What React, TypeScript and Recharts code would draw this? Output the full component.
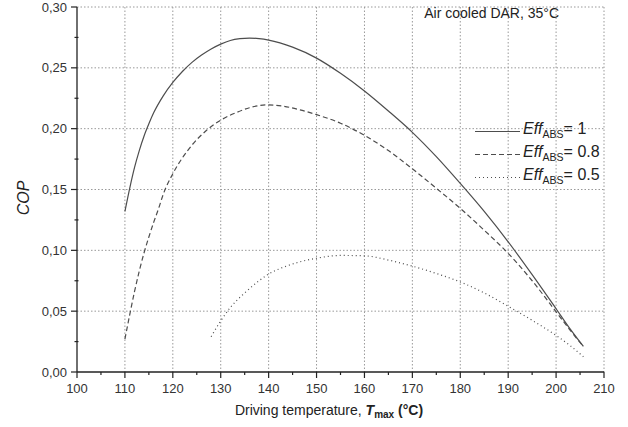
import { LineChart, Line, XAxis, YAxis, CartesianGrid, Legend, Label } from 'recharts';

// Driving temperature (°C) and COP for each absorber efficiency
const tempEff1 = [110, 111, 112, 113, 114, 115, 116, 118, 120, 122, 124, 126, 128, 130, 132, 134, 136, 138, 140, 145, 150, 155, 160, 165, 170, 175, 180, 185, 190, 195, 200, 203, 205.7];
const copEff1 = [0.132, 0.151, 0.168, 0.182, 0.194, 0.204, 0.213, 0.227, 0.238, 0.247, 0.2545, 0.2605, 0.2655, 0.2695, 0.2725, 0.274, 0.2745, 0.274, 0.2728, 0.267, 0.258, 0.2455, 0.231, 0.2145, 0.197, 0.177, 0.155, 0.132, 0.107, 0.08, 0.052, 0.035, 0.021];

const tempEff08 = [110, 111, 112, 113, 114, 115, 116, 117, 118, 120, 122, 124, 127, 130, 133, 136, 139.5, 143, 146.5, 150, 155, 160, 165, 170, 175, 180, 185, 190, 195, 200, 203, 205.7];
const copEff08 = [0.027, 0.047, 0.066, 0.083, 0.098, 0.111, 0.123, 0.134, 0.146, 0.163, 0.176, 0.1865, 0.1985, 0.207, 0.2128, 0.2172, 0.2195, 0.2185, 0.2155, 0.2115, 0.2045, 0.1945, 0.182, 0.167, 0.151, 0.1345, 0.1165, 0.0975, 0.075, 0.0495, 0.034, 0.021];

const tempEff05 = [128, 130, 132, 135, 138, 140, 143, 146.5, 150, 155, 160, 165, 170, 175, 180, 185, 190, 195, 200, 203, 205.7];
const copEff05 = [0.029, 0.042, 0.053, 0.065, 0.075, 0.0805, 0.086, 0.0905, 0.0935, 0.0958, 0.0955, 0.092, 0.087, 0.081, 0.074, 0.065, 0.054, 0.0425, 0.03, 0.0215, 0.0125];

const seriesNames = ['1', '0.8', '0.5'];

const xMajorTicks = [100, 110, 120, 130, 140, 150, 160, 170, 180, 190, 200, 210];
const xMinorTicks = [105, 115, 125, 135, 145, 155, 165, 175, 185, 195, 205];
const yMajorTicks = [0, 0.05, 0.1, 0.15, 0.2, 0.25, 0.3];
const yMinorTicks = [0.025, 0.075, 0.125, 0.175, 0.225, 0.275];

const FONT = '"Liberation Sans", Arial, sans-serif';
const LINE = '#4d4d4d';
const AXIS = '#222';
const GRID = '#999';

const zip = (ts: number[], cs: number[]) => ts.map((t, i) => ({ t, cop: cs[i] }));

const series = [
  { name: seriesNames[0], data: zip(tempEff1, copEff1), dash: undefined as string | undefined },
  { name: seriesNames[1], data: zip(tempEff08, copEff08), dash: '5 3' },
  { name: seriesNames[2], data: zip(tempEff05, copEff05), dash: '1 3' },
];

const isMajor = (list: number[], v: number) => list.some((m) => Math.abs(m - v) < 1e-9);

function XTick({ x, y, payload }: any) {
  const major = isMajor(xMajorTicks, payload.value);
  return (
    <g>
      <line x1={x} x2={x} y1={y} y2={y + (major ? 6 : 3)} stroke={AXIS} strokeWidth={1.2} />
      {major && (
        <text x={x} y={y + 21} textAnchor="middle" fontSize={13} fill="#333" fontFamily={FONT}>
          {payload.value}
        </text>
      )}
    </g>
  );
}

function YTick({ x, y, payload }: any) {
  const major = isMajor(yMajorTicks, payload.value);
  return (
    <g>
      <line x1={major ? x - 6 : x - 2.5} x2={major ? x : x + 1.5} y1={y} y2={y} stroke={AXIS} strokeWidth={1.2} />
      {major && (
        <text x={x - 10} y={y + 4.5} textAnchor="end" fontSize={13} fill="#333" fontFamily={FONT}>
          {payload.value.toFixed(2).replace('.', ',')}
        </text>
      )}
    </g>
  );
}

function LegendBox() {
  return (
    <div style={{ fontFamily: FONT, color: '#222' }}>
      {series.map((s) => (
        <div key={s.name} style={{ display: 'flex', alignItems: 'center', height: 23 }}>
          <svg width={48} height={23}>
            <line x1={0} x2={45} y1={11.5} y2={11.5} stroke={LINE} strokeWidth={1.2} strokeDasharray={s.dash} />
          </svg>
          <span style={{ fontSize: 16, whiteSpace: 'nowrap', lineHeight: '23px' }}>
            <i>Eff</i>
            <sub style={{ fontSize: 10.5, verticalAlign: '-4px' }}>ABS</sub>= {s.name}
          </span>
        </div>
      ))}
    </div>
  );
}

export default function App() {
  return (
    <div style={{ position: 'absolute', left: 0, top: 0, width: 628, height: 427, background: '#fff' }}>
      <LineChart width={628} height={427} data={series[0].data} margin={{ top: 7, right: 24, bottom: 0, left: 0 }}>
        <CartesianGrid
          stroke={GRID}
          strokeWidth={1}
          strokeDasharray="1.5 2"
          verticalValues={xMajorTicks.slice(1)}
          horizontalValues={yMajorTicks.slice(1)}
        />
        <XAxis
          type="number"
          dataKey="t"
          domain={[100, 210]}
          ticks={[...xMajorTicks, ...xMinorTicks].sort((a, b) => a - b)}
          interval={0}
          height={55}
          tickSize={0}
          tickMargin={0}
          tickLine={false}
          tick={<XTick />}
          axisLine={{ stroke: AXIS, strokeWidth: 1.3 }}
          allowDataOverflow
        >
          <Label
            content={({ viewBox }: any) => (
              <text x={viewBox.x + 252} y={viewBox.y + 43} textAnchor="middle" fontSize={14} fill="#222" fontFamily={FONT}>
                Driving temperature,{' '}
                <tspan fontWeight="bold" fontStyle="italic">T</tspan>
                <tspan fontWeight="bold" fontSize={10} dy={3}>max</tspan>
                <tspan fontWeight="bold" dy={-3}> (°C)</tspan>
              </text>
            )}
          />
        </XAxis>
        <YAxis
          type="number"
          domain={[0, 0.3]}
          ticks={[...yMajorTicks, ...yMinorTicks].sort((a, b) => a - b)}
          interval={0}
          width={77}
          tickSize={0}
          tickMargin={0}
          tickLine={false}
          tick={<YTick />}
          axisLine={{ stroke: AXIS, strokeWidth: 1.3 }}
          allowDataOverflow
        >
          <Label
            content={() => (
              <text
                x={23}
                y={198}
                transform="rotate(-90 23 198)"
                textAnchor="middle"
                dominantBaseline="central"
                fontSize={16}
                fontStyle="italic"
                fill="#222"
                fontFamily={FONT}
              >
                COP
              </text>
            )}
          />
        </YAxis>
        {series.map((s) => (
          <Line
            key={s.name}
            data={s.data}
            dataKey="cop"
            name={s.name}
            type="monotone"
            stroke={LINE}
            strokeWidth={1.2}
            strokeDasharray={s.dash}
            dot={false}
            activeDot={false}
            isAnimationActive={false}
          />
        ))}
        <Legend
          layout="vertical"
          align="center"
          verticalAlign="middle"
          content={<LegendBox />}
          wrapperStyle={{ left: 475, top: 120, width: 'auto' }}
        />
      </LineChart>
      <div
        style={{
          position: 'absolute',
          right: 628 - 559,
          top: 5,
          fontFamily: FONT,
          fontSize: 14,
          color: '#222',
          whiteSpace: 'nowrap',
        }}
      >
        Air cooled DAR, 35°C
      </div>
    </div>
  );
}
